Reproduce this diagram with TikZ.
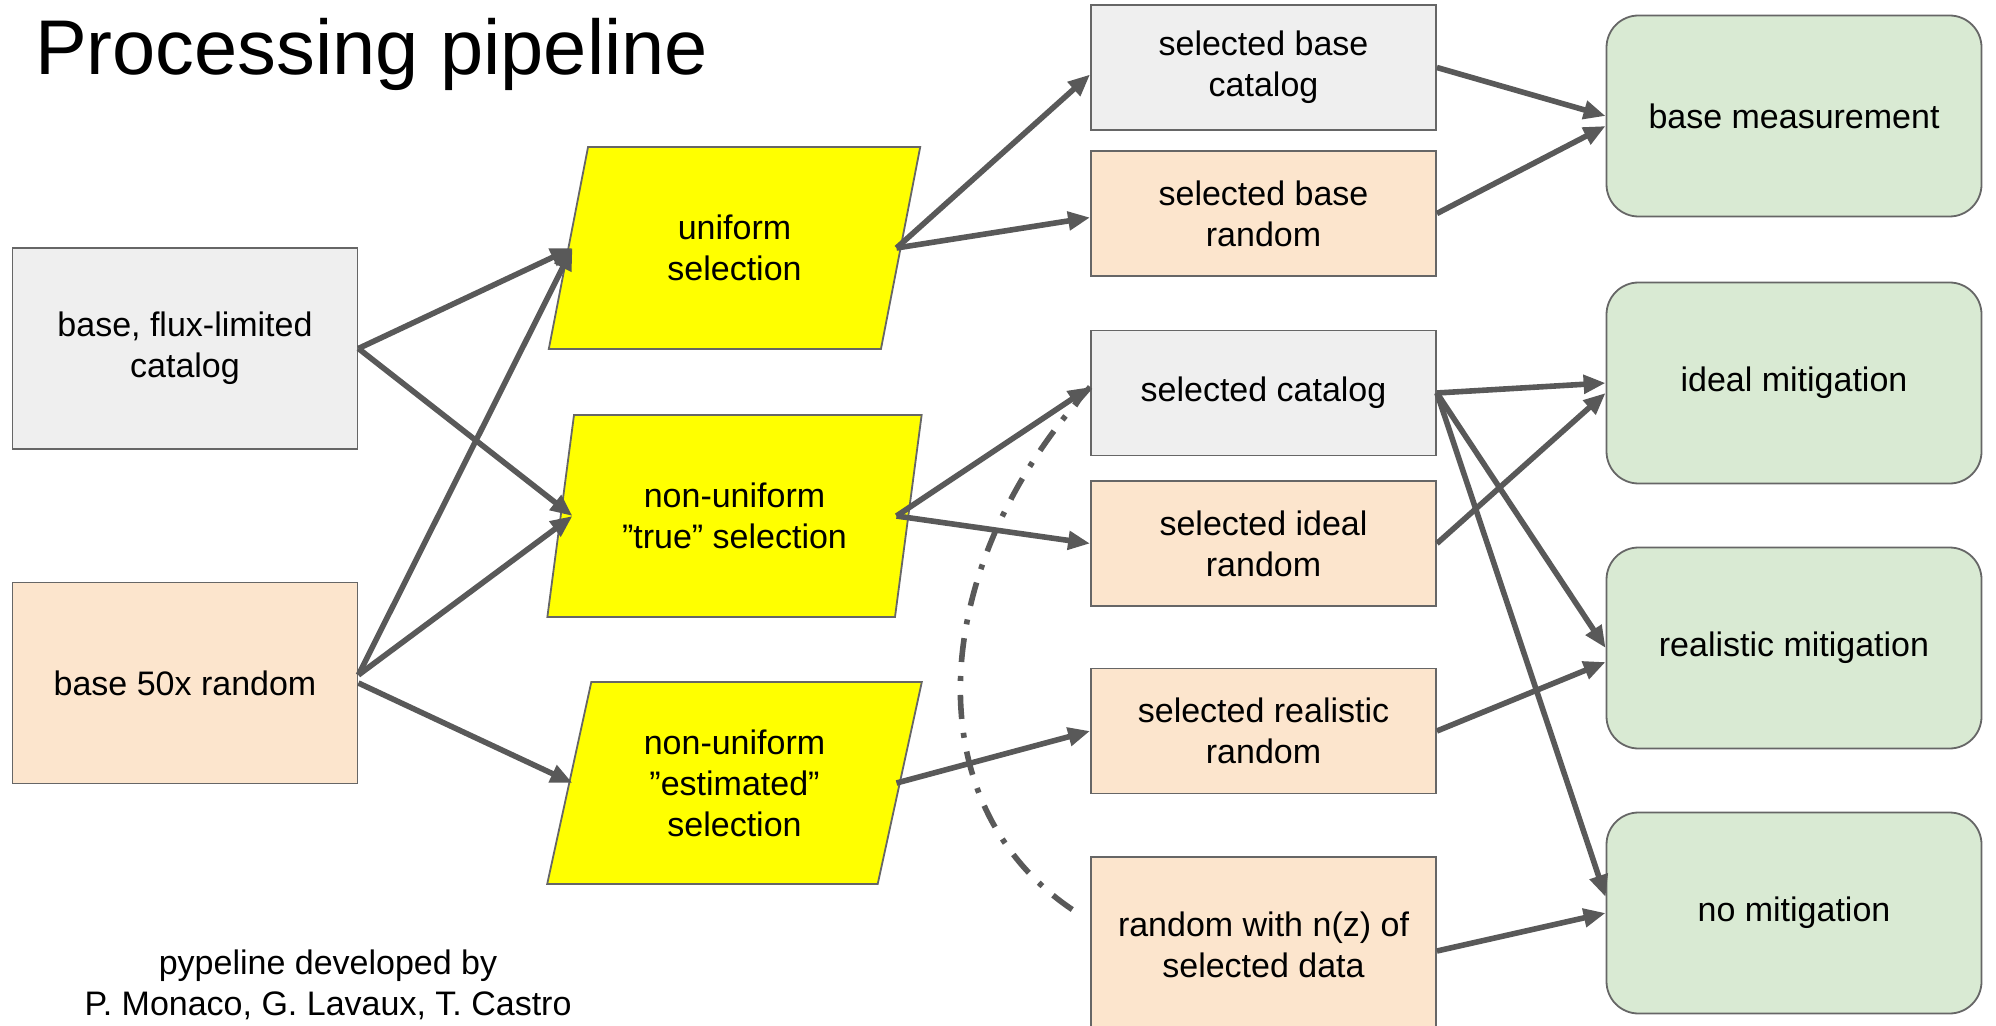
\documentclass[tikz,border=0pt]{standalone}
\usepackage{fontspec}
\setmainfont{Liberation Sans}
\usepackage{tikz}
\usetikzlibrary{shapes.geometric, arrows.meta, positioning}
\definecolor{edgegray}{RGB}{102,102,102}
\definecolor{arrowgray}{RGB}{89,89,89}
\definecolor{catgray}{RGB}{239,239,239}
\definecolor{rndpeach}{RGB}{252,229,205}
\definecolor{selyellow}{RGB}{255,255,0}
\definecolor{resgreen}{RGB}{217,234,211}

\begin{document}
\begin{tikzpicture}[
  x=0.5pt, y=-0.5pt,
  txt/.style={font=\fontsize{17}{20.5}\selectfont, align=center},
  datafile/.style={txt, rectangle, draw=edgegray, line width=0.9pt, minimum width=172.5pt},
  cat/.style={datafile, fill=catgray},
  rnd/.style={datafile, fill=rndpeach},
  big/.style={minimum height=100.5pt},
  small/.style={minimum height=62.5pt},
  sel/.style={txt, trapezium, trapezium left angle=76, trapezium right angle=104,
              trapezium stretches=true, minimum width=187.5pt, minimum height=101pt,
              draw=edgegray, line width=0.9pt, fill=selyellow},
  result/.style={txt, rectangle, rounded corners=16pt, draw=edgegray, line width=0.9pt,
                 fill=resgreen, minimum width=187.5pt, minimum height=100.5pt},
  arrow/.style={-{Triangle[length=11pt,width=9pt]}, line width=2.8pt, color=arrowgray},
  guide/.style={line width=2.8pt, color=arrowgray, dash pattern=on 12pt off 7pt on 2.5pt off 7pt}
]
  \useasboundingbox (0,0) rectangle (1996,1026);

  \node[anchor=base west, font=\fontsize{38.8}{45}\selectfont] (title) at (28,75) {Processing pipeline};
  \node[txt] (credit) at (328,985) {pypeline developed by\\P. Monaco, G. Lavaux, T. Castro};

  \node[cat, big] (bcat) at (185,348.5) {base, flux-limited\\catalog};
  \node[rnd, big] (brand) at (185,683) {base 50x random};

  \node[sel] (unif) at (734.5,248) {uniform\\selection};
  \node[sel] (true) at (734.5,516) {non-uniform\\”true” selection};
  \node[sel] (est) at (734.5,783) {non-uniform\\”estimated”\\selection};
  \foreach \s in {unif,true,est} {
    \coordinate (\s-in) at ([xshift=-81pt]\s.center);
    \coordinate (\s-out) at ([xshift=81pt]\s.center);
  }

  \node[cat, small] (sbc) at (1263.5,67.5) {selected base\\catalog};
  \node[rnd, small] (sbr) at (1263.5,213.5) {selected base\\random};
  \node[cat, small] (scat) at (1263.5,393) {selected catalog};
  \node[rnd, small] (sir) at (1263.5,543.5) {selected ideal\\random};
  \node[rnd, small] (srr) at (1263.5,731) {selected realistic\\random};
  \node[rnd, minimum height=88pt] (rnz) at (1263.5,945) {random with n(z) of\\selected data};

  \node[result] (bm) at (1794,116) {base measurement};
  \node[result] (im) at (1794,383) {ideal mitigation};
  \node[result] (rm) at (1794,648) {realistic mitigation};
  \node[result] (nm) at (1794,913) {no mitigation};

  \draw[arrow] (bcat.east)--(unif-in);
  \draw[arrow] (bcat.east)--(true-in);
  \draw[arrow] ([yshift=4pt]brand.east)--(unif-in);
  \draw[arrow] ([yshift=4pt]brand.east)--(true-in);
  \draw[arrow] (brand.east)--(est-in);

  \draw[arrow] (unif-out)--([yshift=-3.5pt]sbc.west);
  \draw[arrow] (unif-out)--([yshift=-2pt]sbr.west);
  \draw[arrow] (true-out)--([yshift=3pt]scat.west);
  \draw[arrow] (true-out)--(sir.west);
  \draw[arrow] (est-out)--(srr.west);
  \draw[guide] ([yshift=3pt]scat.west) .. controls +(-166,183) and +(-165,-104) .. ([xshift=-5.5pt,yshift=15.5pt]rnz.west);

  \draw[arrow] (sbc.east)--(bm.west);
  \draw[arrow] (sbr.east)--([yshift=-5pt]bm.west);
  \draw[arrow] (scat.east)--(im.west);
  \draw[arrow] (sir.east)--([yshift=-5pt]im.west);
  \draw[arrow] (scat.east)--(rm.west);
  \draw[arrow] (srr.east)--([yshift=-7pt]rm.west);
  \draw[arrow] (scat.east)--([yshift=8pt]nm.west);
  \draw[arrow] ([yshift=-3pt]rnz.east)--(nm.west);
\end{tikzpicture}
\end{document}
